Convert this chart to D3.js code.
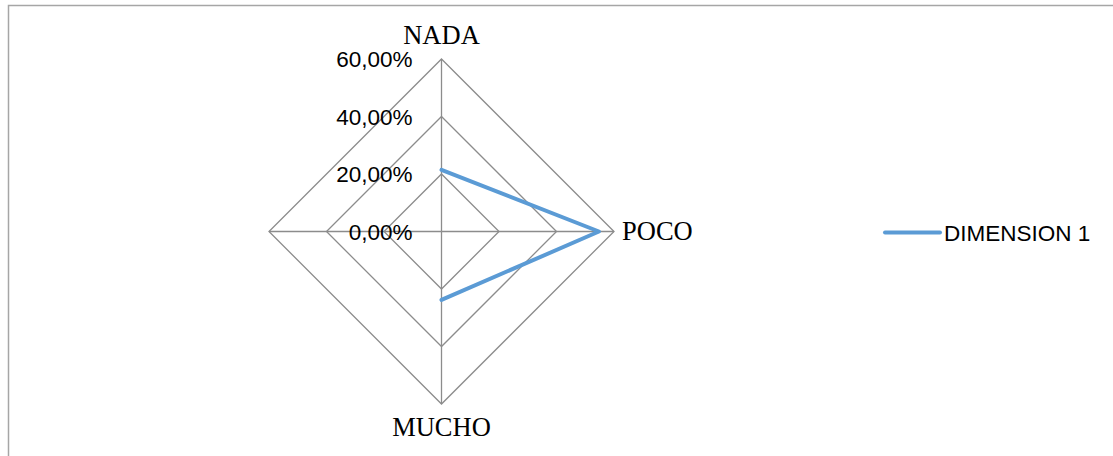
<!DOCTYPE html>
<html>
<head>
<meta charset="utf-8">
<script src="https://cdn.jsdelivr.net/npm/d3@7"></script>
<style>
  body { margin: 0; background: #fff; }
  .cat { font-family: "Liberation Serif", serif; font-size: 26.5px; fill: #000; }
  .tick-label { font-family: "Liberation Sans", sans-serif; font-size: 22.5px; fill: #000; }
  .legend-text { font-family: "Liberation Sans", sans-serif; font-size: 22.5px; fill: #000; }
</style>
</head>
<body>
<svg id="chart"></svg>
<script>
// data
const categories = ["NADA", "POCO", "MUCHO", ""];
const seriesName = "DIMENSION 1";
const seriesValues = [0.2143, 0.5476, 0.2381, null];
const tickValues = [0, 0.2, 0.4, 0.6];

const width = 1113, height = 456;
const cx = 441.5, cy = 231.5, radius = 172.5;

const svg = d3.select("#chart")
    .attr("width", width)
    .attr("height", height);

// chart frame (runs off the right/bottom edge like the source)
svg.append("rect")
    .attr("x", 8.5).attr("y", 5.5)
    .attr("width", width).attr("height", height)
    .attr("fill", "none")
    .attr("stroke", "#a6a6a6")
    .attr("stroke-width", 1.5);

const rScale = d3.scaleLinear().domain([0, 0.6]).range([0, radius]);
const angle = i => i * 2 * Math.PI / categories.length;

const locale = d3.formatLocale({decimal: ",", thousands: ".", grouping: [3], currency: ["", "€"]});
const fmt = locale.format(".2%");

const g = svg.append("g").attr("transform", `translate(${cx},${cy})`);

// grid rings
const ring = d3.lineRadial()
    .angle((d, i) => angle(i))
    .radius(d => rScale(d))
    .curve(d3.curveLinearClosed);

g.selectAll(".ring")
    .data(tickValues.filter(d => d > 0))
    .enter().append("path")
    .attr("class", "ring")
    .attr("d", d => ring(categories.map(() => d)))
    .attr("fill", "none")
    .attr("stroke", "#8c8c8c")
    .attr("stroke-width", 1.3);

// spokes
g.selectAll(".spoke")
    .data(categories)
    .enter().append("line")
    .attr("class", "spoke")
    .attr("x1", 0).attr("y1", 0)
    .attr("x2", (d, i) => rScale(0.6) * Math.sin(angle(i)))
    .attr("y2", (d, i) => -rScale(0.6) * Math.cos(angle(i)))
    .attr("stroke", "#8c8c8c")
    .attr("stroke-width", 1.3);

// tick labels along the top spoke
g.selectAll(".tick-label")
    .data(tickValues)
    .enter().append("text")
    .attr("class", "tick-label")
    .attr("x", -29)
    .attr("y", d => -rScale(d))
    .attr("dy", "0.36em")
    .attr("text-anchor", "end")
    .text(d => fmt(d));

// category labels
const labelPos = [
  {dx: 0, dy: -15, anchor: "middle"},
  {dx: 8, dy: 0, anchor: "start"},
  {dx: 0, dy: 15, anchor: "middle"},
  {dx: -8, dy: 0, anchor: "end"}
];
g.selectAll(".cat")
    .data(categories)
    .enter().append("text")
    .attr("class", "cat")
    .attr("x", (d, i) => rScale(0.6) * Math.sin(angle(i)) + labelPos[i].dx)
    .attr("y", (d, i) => -rScale(0.6) * Math.cos(angle(i)) + labelPos[i].dy)
    .attr("text-anchor", (d, i) => labelPos[i].anchor)
    .attr("dy", (d, i) => i === 1 || i === 3 ? "0.33em" : (i === 2 ? "0.66em" : "0"))
    .text(d => d);

// series line (blank value leaves a gap)
const line = d3.lineRadial()
    .defined(d => d != null)
    .angle((d, i) => angle(i))
    .radius(d => rScale(d));

g.append("path")
    .attr("d", line(seriesValues))
    .attr("fill", "none")
    .attr("stroke", "#5b9bd5")
    .attr("stroke-width", 4)
    .attr("stroke-linejoin", "round")
    .attr("stroke-linecap", "round");

// legend
const legend = svg.append("g").attr("transform", "translate(885,232.5)");
legend.append("line")
    .attr("x1", 0).attr("x2", 55)
    .attr("stroke", "#5b9bd5")
    .attr("stroke-width", 4)
    .attr("stroke-linecap", "round");
legend.append("text")
    .attr("class", "legend-text")
    .attr("x", 59)
    .attr("dy", "0.36em")
    .text(seriesName);
</script>
</body>
</html>
